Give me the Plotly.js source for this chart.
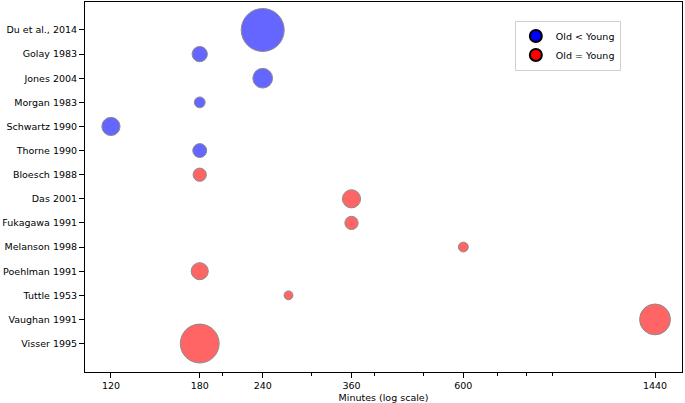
<!DOCTYPE html>
<html>
<head>
<meta charset="utf-8">
<script src="https://cdn.plot.ly/plotly-3.0.1.min.js"></script>
<style>
  html, body { margin: 0; padding: 0; background: white; }
  #myDiv { width: 685px; height: 403px; }
</style>
</head>
<body>
<div id="myDiv"></div>
<script>
// studies, top to bottom
var studies = ['Du et al., 2014', 'Golay 1983', 'Jones 2004', 'Morgan 1983', 'Schwartz 1990',
               'Thorne 1990', 'Bloesch 1988', 'Das 2001', 'Fukagawa 1991', 'Melanson 1998',
               'Poehlman 1991', 'Tuttle 1953', 'Vaughan 1991', 'Visser 1995'];

// Old < Young
var lessStudies = ['Du et al., 2014', 'Golay 1983', 'Jones 2004', 'Morgan 1983', 'Schwartz 1990', 'Thorne 1990'];
var lessMinutes = [240, 180, 240, 180, 120, 180];
var lessN = [190, 24, 40, 12, 34, 20];

// Old = Young
var equalStudies = ['Bloesch 1988', 'Das 2001', 'Fukagawa 1991', 'Melanson 1998', 'Poehlman 1991',
                    'Tuttle 1953', 'Vaughan 1991', 'Visser 1995'];
var equalMinutes = [180, 360, 360, 600, 180, 270, 1440, 180];
var equalN = [18, 34, 18, 10, 30, 8, 98, 155];

var xTicks = [120, 180, 240, 360, 600, 1440];
var xMinor = [200, 300, 400, 500, 700, 800, 900];

// plotly area mode: diameter = sqrt(2 * n / sizeref)
var sref = 0.2056;

var trace1 = {
  x: lessMinutes,
  y: lessStudies,
  mode: 'markers',
  type: 'scatter',
  name: 'Old < Young',
  showlegend: false,
  marker: {
    size: lessN,
    sizemode: 'area',
    sizeref: sref,
    color: 'blue',
    opacity: 0.6,
    line: { width: 1, color: '#404040' }
  }
};

var trace2 = {
  x: equalMinutes,
  y: equalStudies,
  mode: 'markers',
  type: 'scatter',
  name: 'Old = Young',
  showlegend: false,
  marker: {
    size: equalN,
    sizemode: 'area',
    sizeref: sref,
    color: 'red',
    opacity: 0.6,
    line: { width: 1, color: '#404040' }
  }
};

// legend-only entries (solid markers, black edge)
var leg1 = {
  x: [null], y: [null], mode: 'markers', type: 'scatter', name: 'Old < Young',
  marker: { size: 11, color: 'blue', opacity: 1, line: { width: 1, color: 'black' } }
};
var leg2 = {
  x: [null], y: [null], mode: 'markers', type: 'scatter', name: 'Old = Young',
  marker: { size: 11, color: 'red', opacity: 1, line: { width: 1, color: 'black' } }
};

var data = [trace1, trace2, leg1, leg2];

var layout = {
  width: 685,
  height: 403,
  margin: { l: 85, r: 3, t: 2, b: 31 },
  paper_bgcolor: 'white',
  plot_bgcolor: 'white',
  font: { family: 'DejaVu Sans', size: 9.5, color: 'black' },
  xaxis: {
    type: 'log',
    range: [2.0277, 3.2119],
    tickmode: 'array',
    tickvals: xTicks,
    ticktext: xTicks.map(String),
    ticks: 'outside',
    ticklen: 5,
    tickwidth: 1,
    tickcolor: 'black',
    minor: { tickvals: xMinor, ticks: 'outside', ticklen: 3, tickwidth: 1, tickcolor: 'black', showgrid: false },
    showgrid: false,
    zeroline: false,
    showline: true,
    linecolor: 'black',
    linewidth: 1,
    mirror: true,
    tickfont: { size: 9.5 },
    title: { text: 'Minutes (log scale)', font: { size: 9.5 }, standoff: 4 }
  },
  yaxis: {
    type: 'category',
    categoryorder: 'array',
    categoryarray: studies,
    range: [14.18, -1.16],
    ticks: 'outside',
    ticklen: 5,
    tickwidth: 1,
    tickcolor: 'black',
    showgrid: false,
    zeroline: false,
    showline: true,
    linecolor: 'black',
    linewidth: 1,
    mirror: true,
    tickfont: { size: 9.5 }
  },
  showlegend: true,
  legend: {
    x: 0.72,
    y: 0.95,
    xanchor: 'left',
    yanchor: 'top',
    bgcolor: 'rgba(255,255,255,0.8)',
    bordercolor: '#d0d0d0',
    borderwidth: 1,
    font: { size: 9.5 },
    itemsizing: 'constant',
    tracegroupgap: 0
  },
  hovermode: 'closest'
};

Plotly.newPlot('myDiv', data, layout, { displayModeBar: false, staticPlot: true });
</script>
</body>
</html>
